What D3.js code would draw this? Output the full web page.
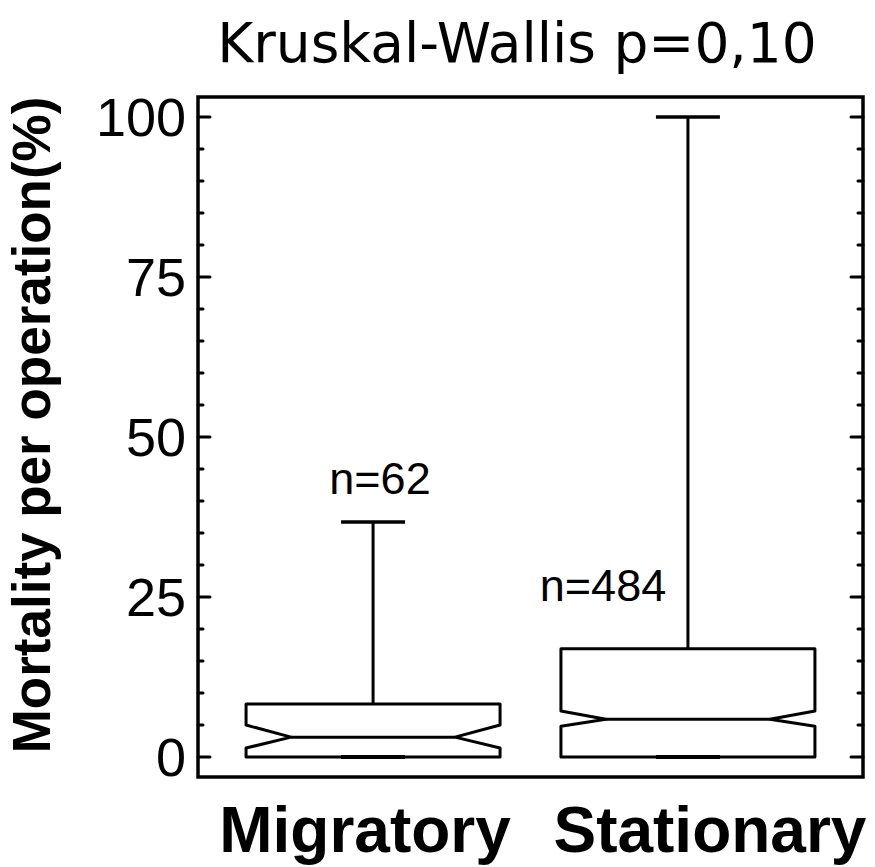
<!DOCTYPE html>
<html>
<head>
<meta charset="UTF-8">
<title>Mortality per operation</title>
<script src="https://d3js.org/d3.v7.min.js"></script>
<style>
  body { margin: 0; background: #fff; }
  svg { display: block; }
</style>
</head>
<body>
<svg width="875" height="867"></svg>
<script>
// data
const groups = ["Migratory", "Stationary"];
const counts = [62, 484];
const whiskerLow = [0, 0];
const q1 = [0, 0];
const medians = [3.1, 5.9];
const q3 = [8.3, 16.9];
const whiskerHigh = [36.7, 100];
const notchLow = [1.4, 4.8];
const notchHigh = [5.0, 7.2];
const yTicks = [0, 25, 50, 75, 100];

const svg = d3.select("svg");
const plotL = 198, plotR = 863, plotT = 97, plotB = 777;

const y = d3.scaleLinear().domain([-3.125, 103.125]).range([plotB, plotT]);
const x = d3.scalePoint().domain(groups).range([plotL, plotR]).padding(0.556);

const boxW = 254, notchIn = 45, capW = 64;

// frame
svg.append("rect")
    .attr("x", plotL).attr("y", plotT)
    .attr("width", plotR - plotL).attr("height", plotB - plotT)
    .attr("fill", "none").attr("stroke", "#000").attr("stroke-width", 3.5);

// ticks, left and right, pointing inward
const minor = d3.range(0, 101, 5).filter(v => v % 25 !== 0);
const g = svg.append("g").attr("stroke", "#000").attr("stroke-width", 3).attr("stroke-linecap", "round");
yTicks.forEach(v => {
    g.append("line").attr("x1", plotL).attr("x2", plotL + 12).attr("y1", y(v)).attr("y2", y(v));
    g.append("line").attr("x1", plotR).attr("x2", plotR - 12).attr("y1", y(v)).attr("y2", y(v));
});
minor.forEach(v => {
    g.append("line").attr("x1", plotL).attr("x2", plotL + 5).attr("y1", y(v)).attr("y2", y(v));
    g.append("line").attr("x1", plotR).attr("x2", plotR - 5).attr("y1", y(v)).attr("y2", y(v));
});

svg.append("g").selectAll("text")
    .data(yTicks)
    .join("text")
    .attr("x", 186)
    .attr("y", d => y(d))
    .attr("dy", "0.36em")
    .attr("text-anchor", "end")
    .style("font-family", "Liberation Sans, Arial, sans-serif")
    .style("font-size", "54px")
    .text(d => d);

// boxes
groups.forEach((name, i) => {
    const cx = x(name);
    const l = cx - boxW / 2, r = cx + boxW / 2;
    const b = svg.append("g").attr("fill", "none").attr("stroke", "#000").attr("stroke-width", 3);

    // whiskers
    b.append("line").attr("x1", cx).attr("x2", cx).attr("y1", y(q3[i])).attr("y2", y(whiskerHigh[i]));
    b.append("line").attr("x1", cx - capW / 2).attr("x2", cx + capW / 2)
        .attr("y1", y(whiskerHigh[i])).attr("y2", y(whiskerHigh[i])).attr("stroke-width", 3.5);
    b.append("line").attr("x1", cx - capW / 2).attr("x2", cx + capW / 2)
        .attr("y1", y(whiskerLow[i])).attr("y2", y(whiskerLow[i])).attr("stroke-width", 4);

    // notched box
    const pts = [
        [l, y(q3[i])], [r, y(q3[i])], [r, y(notchHigh[i])],
        [r - notchIn, y(medians[i])], [r, y(notchLow[i])], [r, y(q1[i])],
        [l, y(q1[i])], [l, y(notchLow[i])], [l + notchIn, y(medians[i])],
        [l, y(notchHigh[i])]
    ];
    b.append("path")
        .attr("d", d3.line()(pts) + "Z")
        .attr("stroke-linejoin", "round");
    b.append("line").attr("x1", l + notchIn).attr("x2", r - notchIn)
        .attr("y1", y(medians[i])).attr("y2", y(medians[i]));
});

// n labels
const nPos = [[380, 494], [603, 601]];
svg.append("g").selectAll("text")
    .data(counts)
    .join("text")
    .attr("x", (d, i) => nPos[i][0])
    .attr("y", (d, i) => nPos[i][1])
    .attr("text-anchor", "middle")
    .style("font-family", "Liberation Sans, Arial, sans-serif")
    .style("font-size", "45px")
    .text(d => "n=" + d);

// category labels (nudged so the long word stays inside the page)
const labelShift = [-8, 22];
svg.append("g").selectAll("text")
    .data(groups)
    .join("text")
    .attr("x", (d, i) => x(d) + labelShift[i])
    .attr("y", 852)
    .attr("text-anchor", "middle")
    .style("font-family", "Liberation Sans, Arial, sans-serif")
    .style("font-weight", "bold")
    .style("font-size", "64px")
    .text(d => d);

// y axis title
svg.append("text")
    .attr("transform", "translate(50,425) rotate(-90)")
    .attr("text-anchor", "middle")
    .style("font-family", "Liberation Sans, Arial, sans-serif")
    .style("font-weight", "bold")
    .style("font-size", "53px")
    .text("Mortality per operation(%)");

// title
svg.append("text")
    .attr("x", 517)
    .attr("y", 62)
    .attr("text-anchor", "middle")
    .style("font-family", "DejaVu Sans, sans-serif")
    .style("font-size", "55px")
    .text("Kruskal-Wallis p=0,10");
</script>
</body>
</html>
